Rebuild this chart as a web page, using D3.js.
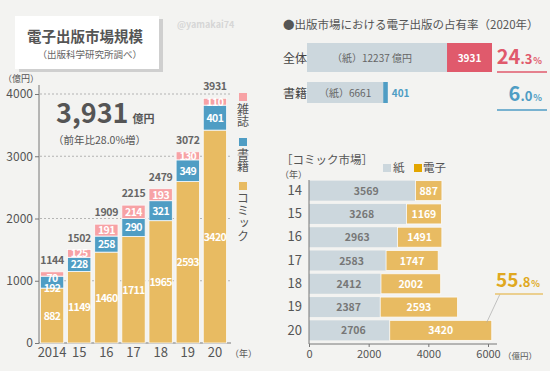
<!DOCTYPE html>
<html>
<head>
<meta charset="utf-8">
<script src="https://cdn.jsdelivr.net/npm/d3@7"></script>
<style>
body { margin: 0; background: #f3f3f1; }
svg { display: block; font-family: "Noto Sans CJK JP", "Noto Sans", sans-serif; }
</style>
</head>
<body>
<svg id="chart" width="550" height="371"></svg>
<script>
// left chart: electronic publishing market (億円)
var years = ["2014", "15", "16", "17", "18", "19", "20"];
var comic = [882, 1149, 1460, 1711, 1965, 2593, 3420];
var books = [192, 228, 258, 290, 321, 349, 401];
var magazines = [70, 125, 191, 214, 193, 130, 110];
var totals = [1144, 1502, 1909, 2215, 2479, 3072, 3931];
var yTicks = [0, 1000, 2000, 3000, 4000];

// share 2020
var shareLabels = ["全体", "書籍"];
var sharePaper = [12237, 6661];
var shareDigital = [3931, 401];
var sharePct = ["24.3", "6.0"];

// comic market
var comicYears = ["14", "15", "16", "17", "18", "19", "20"];
var comicPaper = [3569, 3268, 2963, 2583, 2412, 2387, 2706];
var comicDigital = [887, 1169, 1491, 1747, 2002, 2593, 3420];
var comicTicks = [0, 2000, 4000, 6000];

var cGold = "#e8bb62", cBlue = "#4f9dc4", cPink = "#f7a2a5", cPaper = "#ccd7dd",
    cRed = "#e05a6c", cText = "#555";

var svg = d3.select("#chart");

// title box
svg.append("rect").attr("x", 19).attr("y", 19).attr("width", 144).attr("height", 53).attr("fill", "#cfcfcf");
svg.append("rect").attr("x", 15).attr("y", 16).attr("width", 144).attr("height", 53).attr("fill", "#fff");
svg.append("text").attr("x", 27).attr("y", 42).attr("font-size", 14.5).attr("font-weight", "bold")
    .attr("fill", "#555").text("電子出版市場規模");
svg.append("text").attr("x", 142).attr("y", 58).attr("text-anchor", "end").attr("font-size", 9.5)
    .attr("fill", "#666").text("（出版科学研究所調べ）");
svg.append("text").attr("x", 177).attr("y", 28).attr("font-size", 9).attr("font-weight", "bold")
    .attr("fill", "#d6d6d6").text("@yamakai74");

// ---- left stacked bars
var x = d3.scaleBand().domain(years).range([38.5, 228.5]).paddingInner(0.14).paddingOuter(0.07);
var y = d3.scaleLinear().domain([0, 4000]).range([343, 94]);

var g = svg.append("g");
g.selectAll(".grid").data(yTicks.slice(1)).enter().append("line")
    .attr("x1", 40).attr("x2", 232)
    .attr("y1", function(d) { return y(d); }).attr("y2", function(d) { return y(d); })
    .attr("stroke", "#999").attr("stroke-width", 0.7).attr("stroke-dasharray", "2,2");

var yAxis = g.append("g").attr("transform", "translate(39,0)")
    .call(d3.axisLeft(y).tickValues(yTicks).tickFormat(d3.format("d")).tickSize(4).tickPadding(2));
yAxis.select(".domain").remove();
yAxis.selectAll("line").attr("stroke", "#777");
yAxis.selectAll("text").attr("font-size", 12).attr("fill", cText).attr("font-family", "Noto Sans CJK JP");
g.append("line").attr("x1", 39).attr("x2", 39).attr("y1", 85).attr("y2", 343).attr("stroke", "#777");
g.append("line").attr("x1", 39).attr("x2", 231).attr("y1", 343).attr("y2", 343).attr("stroke", "#777");
g.append("text").attr("x", 3).attr("y", 82).attr("font-size", 9).attr("fill", cText).text("（億円）");

var rows = years.map(function(yr, i) {
    var segs = [
        { y0: 0, y1: comic[i], v: comic[i], c: cGold, nudge: 0 },
        { y0: comic[i], y1: comic[i] + books[i], v: books[i], c: cBlue, nudge: 0 },
        { y0: comic[i] + books[i], y1: totals[i], v: magazines[i], c: cPink, nudge: 0 }
    ];
    // a very thin top segment pushes its label and the one below it downward
    if (y(segs[2].y0) - y(segs[2].y1) < 6) { segs[2].nudge = 4; segs[1].nudge = 6; }
    return { yr: yr, segs: segs };
});
var bars = g.selectAll(".col").data(rows).enter().append("g")
    .attr("transform", function(d) { return "translate(" + x(d.yr) + ",0)"; });
bars.selectAll("rect").data(function(d) { return d.segs; }).enter().append("rect")
    .attr("x", 0).attr("width", x.bandwidth())
    .attr("y", function(d) { return y(d.y1); })
    .attr("height", function(d) { return y(d.y0) - y(d.y1); })
    .attr("fill", function(d) { return d.c; })
    .attr("stroke", "#fbfbfb").attr("stroke-width", 0.8);
bars.selectAll(".lbl").data(function(d) { return d.segs; }).enter().append("text")
    .attr("x", x.bandwidth() / 2)
    .attr("y", function(d) { return (y(d.y0) + y(d.y1)) / 2 + 4 + d.nudge; })
    .attr("text-anchor", "middle").attr("font-size", 10.5).attr("font-weight", "bold")
    .attr("letter-spacing", -0.6)
    .attr("fill", "#fff").text(function(d) { return d.v; });
g.selectAll(".tot").data(totals).enter().append("text")
    .attr("x", function(d, i) { return x(years[i]) + x.bandwidth() / 2; })
    .attr("y", function(d) { return y(d) - 8; })
    .attr("text-anchor", "middle").attr("font-size", 10.5).attr("font-weight", "bold")
    .attr("letter-spacing", -0.3)
    .attr("fill", "#666").text(function(d) { return d; });

var xAxis = g.append("g").attr("transform", "translate(0,343)")
    .call(d3.axisBottom(x).tickSize(0).tickPadding(5));
xAxis.select(".domain").remove();
xAxis.selectAll("text").attr("font-size", 13).attr("fill", cText).attr("font-family", "Noto Sans CJK JP");
g.append("text").attr("x", 230).attr("y", 357).attr("font-size", 9).attr("fill", cText).text("（年）");

// legend (vertical writing)
var legend = [{ c: cPink, t: "雑誌", y: 93 }, { c: cBlue, t: "書籍", y: 138 },
              { c: cGold, t: "コミック", y: 182 }];
legend.forEach(function(l) {
    g.append("rect").attr("x", 239).attr("y", l.y).attr("width", 8).attr("height", 8).attr("fill", l.c);
    g.append("text").attr("x", 243).attr("y", l.y + 10).attr("writing-mode", "vertical-rl")
        .attr("font-size", 12).attr("letter-spacing", 0.8).attr("fill", cText).text(l.t);
});

// big number
var big = svg.append("text").attr("x", 56).attr("y", 123).attr("fill", "#555");
big.append("tspan").attr("font-size", 27).attr("font-weight", "bold").text("3,931");
big.append("tspan").attr("font-size", 11).attr("font-weight", "bold").attr("dx", 4).text("億円");
svg.append("text").attr("x", 53).attr("y", 144).attr("font-size", 10.5).attr("fill", "#555").text("（前年比28.0%増）");

// ---- share bars (2020)
svg.append("text").attr("x", 283).attr("y", 29).attr("font-size", 11.5).attr("fill", "#555")
    .text("●出版市場における電子出版の占有率（2020年）");
var sx = d3.scaleLinear().domain([0, sharePaper[0] + shareDigital[0]]).range([307, 492]);
var sRowY = [43, 82], sRowH = [29, 21];
var shareColor = [cRed, cBlue];
shareLabels.forEach(function(lab, i) {
    var yy = sRowY[i], hh = sRowH[i];
    svg.append("rect").attr("x", sx(0)).attr("y", yy).attr("width", sx(sharePaper[i]) - sx(0)).attr("height", hh).attr("fill", cPaper);
    svg.append("rect").attr("x", sx(sharePaper[i])).attr("y", yy)
        .attr("width", sx(sharePaper[i] + shareDigital[i]) - sx(sharePaper[i])).attr("height", hh).attr("fill", shareColor[i]);
    svg.append("text").attr("x", 283).attr("y", yy + hh / 2 + 5).attr("font-size", 12).attr("fill", "#444").text(lab);
    svg.append("text").attr("x", (sx(0) + sx(sharePaper[i])) / 2 + (i ? 0 : -5)).attr("y", yy + hh / 2 + 4)
        .attr("text-anchor", "middle").attr("font-size", 10).attr("fill", "#666").text("（紙）" + d3.format("d")(sharePaper[i]) + (i ? "" : " 億円"));
    var w = sx(sharePaper[i] + shareDigital[i]) - sx(sharePaper[i]);
    svg.append("text").attr("x", i ? sx(sharePaper[i] + shareDigital[i]) + 4 : sx(sharePaper[i]) + w / 2)
        .attr("y", yy + hh / 2 + 4).attr("text-anchor", i ? "start" : "middle")
        .attr("font-size", 10).attr("font-weight", "bold").attr("fill", i ? cBlue : "#fff").text(shareDigital[i]);
    var parts = sharePct[i].split(".");
    var pt = svg.append("text").attr("x", 542).attr("y", yy + hh / 2 + 6 + (i ? 2 : 0)).attr("text-anchor", "end")
        .attr("font-weight", "bold").attr("fill", shareColor[i]);
    pt.append("tspan").attr("font-size", 20).text(parts[0]);
    pt.append("tspan").attr("font-size", 13).text("." + parts[1]);
    pt.append("tspan").attr("font-size", 9).attr("dx", 1).text("%");
    svg.append("line").attr("x1", 497).attr("x2", 547).attr("y1", yy + hh + (i ? 7 : 0)).attr("y2", yy + hh + (i ? 7 : 0))
        .attr("stroke", shareColor[i]).attr("stroke-width", 1.3);
});

// ---- comic market horizontal bars
svg.append("text").attr("x", 281).attr("y", 164).attr("font-size", 11.5).attr("fill", "#555").text("［コミック市場］");
svg.append("rect").attr("x", 383).attr("y", 164).attr("width", 8).attr("height", 8).attr("fill", cPaper);
svg.append("text").attr("x", 393).attr("y", 172).attr("font-size", 11.5).attr("fill", "#555").text("紙");
svg.append("rect").attr("x", 414).attr("y", 164).attr("width", 8).attr("height", 8).attr("fill", "#e3a600");
svg.append("text").attr("x", 423).attr("y", 172).attr("font-size", 11.5).attr("fill", "#555").text("電子");
svg.append("text").attr("x", 280).attr("y", 178).attr("font-size", 9).attr("fill", "#555").text("（年）");

var hx = d3.scaleLinear().domain([0, 6000]).range([309, 488]);
var hy = d3.scaleBand().domain(comicYears).range([179, 342]).paddingInner(0.14).paddingOuter(0.07);
var hg = svg.append("g");
comicYears.forEach(function(yr, i) {
    var yy = hy(yr), bw = hy.bandwidth();
    hg.append("rect").attr("x", hx(0)).attr("y", yy).attr("width", hx(comicPaper[i]) - hx(0)).attr("height", bw)
        .attr("fill", cPaper);
    hg.append("rect").attr("x", hx(comicPaper[i])).attr("y", yy)
        .attr("width", hx(comicPaper[i] + comicDigital[i]) - hx(comicPaper[i])).attr("height", bw)
        .attr("fill", cGold).attr("stroke", "#fbfbfb").attr("stroke-width", 0.8);
    hg.append("text").attr("x", (hx(0) + hx(comicPaper[i])) / 2 + 4).attr("y", yy + bw / 2 + 4)
        .attr("text-anchor", "middle").attr("font-size", 10.5).attr("font-weight", "bold").attr("fill", "#777").text(comicPaper[i]);
    hg.append("text").attr("x", (hx(comicPaper[i]) + hx(comicPaper[i] + comicDigital[i])) / 2).attr("y", yy + bw / 2 + 4)
        .attr("text-anchor", "middle").attr("font-size", 10.5).attr("font-weight", "bold").attr("fill", "#fff").text(comicDigital[i]);
});
var hyAxis = hg.append("g").attr("transform", "translate(304,0)").call(d3.axisLeft(hy).tickSize(0).tickPadding(2));
hyAxis.select(".domain").remove();
hyAxis.selectAll("text").attr("font-size", 13).attr("fill", cText).attr("font-family", "Noto Sans CJK JP");
hg.append("line").attr("x1", 309).attr("x2", 309).attr("y1", 180).attr("y2", 344).attr("stroke", "#777");
var hxAxis = hg.append("g").attr("transform", "translate(0,344)")
    .call(d3.axisBottom(hx).tickValues(comicTicks).tickFormat(d3.format("d")).tickSize(3).tickPadding(3).tickSizeOuter(0));
hxAxis.select(".domain").attr("stroke", "#777").attr("d", "M309,0H497");
hxAxis.selectAll("line").attr("stroke", "#777");
hxAxis.selectAll("text").attr("font-size", 11).attr("fill", cText).attr("font-family", "Noto Sans CJK JP");
hg.append("text").attr("x", 503).attr("y", 359).attr("font-size", 8.5).attr("fill", cText).text("（億円）");

// 55.8% callout
var last = comicYears.length - 1;
hg.append("line").attr("x1", hx(comicPaper[last] + comicDigital[last]) - 5).attr("y1", hy(comicYears[last]) + 2)
    .attr("x2", 500).attr("y2", 294).attr("stroke", "#aaa").attr("stroke-width", 0.7);
hg.append("line").attr("x1", 495).attr("x2", 543).attr("y1", 294).attr("y2", 294).attr("stroke", "#e8c36e").attr("stroke-width", 1.3);
var ct = hg.append("text").attr("x", 540).attr("y", 287).attr("text-anchor", "end").attr("font-weight", "bold").attr("fill", "#e0a820");
ct.append("tspan").attr("font-size", 19).text("55");
ct.append("tspan").attr("font-size", 13).text(".8");
ct.append("tspan").attr("font-size", 9).attr("dx", 1).text("%");
</script>
</body>
</html>
